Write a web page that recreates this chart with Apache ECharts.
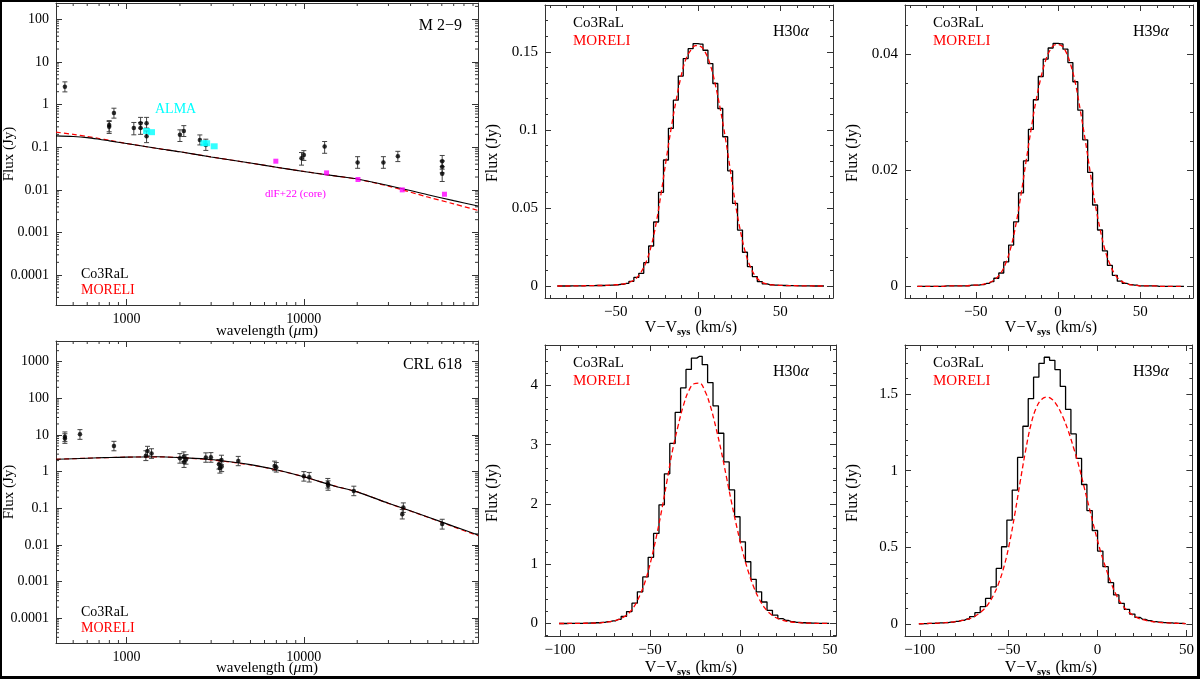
<!DOCTYPE html>
<html>
<head>
<meta charset="utf-8">
<script src="https://cdn.jsdelivr.net/npm/echarts@6/dist/echarts.min.js"></script>
<style>
html, body { margin: 0; padding: 0; background: #000; }
#chart { position: absolute; left: 2px; top: 2px; width: 1195px; height: 674px; background: #fff; }
</style>
</head>
<body>
<div id="chart"></div>
<script>
// ---- SED data, M 2-9 ----
var m29Wave = [449, 798, 798, 849, 1099, 1200, 1200, 1297, 1297, 2000, 2104, 2591, 2800, 9700, 10000, 13100, 20100, 28100, 33900, 60300, 60300, 60300];
var m29Flux = [2.6, 0.33, 0.30, 0.63, 0.28, 0.365, 0.28, 0.365, 0.18, 0.195, 0.24, 0.148, 0.113, 0.055, 0.066, 0.104, 0.0437, 0.044, 0.0615, 0.047, 0.035, 0.0237];
var m29Lo = [1.98, 0.23, 0.21, 0.48, 0.195, 0.28, 0.20, 0.28, 0.128, 0.136, 0.178, 0.113, 0.084, 0.038, 0.049, 0.072, 0.032, 0.032, 0.046, 0.035, 0.025, 0.0157];
var m29Hi = [3.4, 0.42, 0.40, 0.82, 0.38, 0.50, 0.38, 0.50, 0.24, 0.255, 0.32, 0.194, 0.154, 0.075, 0.083, 0.136, 0.060, 0.060, 0.080, 0.064, 0.048, 0.0305];
var almaWave = [1297, 1383, 2729, 2830, 3120];
var almaFlux = [0.24, 0.225, 0.124, 0.124, 0.105];
var dlfWave = [6950, 13430, 20200, 35900, 62100];
var dlfFlux = [0.047, 0.025, 0.0175, 0.010, 0.0079];

// ---- SED data, CRL 618 ----
var crlWave = [449, 449, 546, 849, 1285, 1313, 1383, 2000, 2104, 2110, 2165, 2800, 2990, 3320, 3360, 3430, 3440, 4265, 6840, 6990, 10000, 10720, 13650, 13700, 19140, 35900, 36400, 60300];
var crlFlux = [9.0, 8.0, 10.4, 5.0, 2.73, 3.66, 3.1, 2.3, 2.56, 1.8, 2.13, 2.41, 2.46, 1.58, 1.23, 2.08, 1.37, 1.95, 1.43, 1.31, 0.746, 0.70, 0.48, 0.415, 0.297, 0.069, 0.104, 0.037];
var crlLo = [6.6, 5.9, 7.6, 3.7, 2.0, 2.7, 2.3, 1.7, 1.9, 1.3, 1.6, 1.8, 1.8, 1.17, 0.91, 1.54, 1.0, 1.45, 1.06, 0.97, 0.55, 0.52, 0.355, 0.31, 0.22, 0.051, 0.077, 0.027];
var crlHi = [12.1, 10.8, 14.0, 6.7, 3.7, 4.9, 4.2, 3.1, 3.45, 2.4, 2.9, 3.25, 3.3, 2.13, 1.66, 2.8, 1.85, 2.6, 1.93, 1.77, 1.0, 0.95, 0.65, 0.56, 0.40, 0.093, 0.14, 0.050];

// ---- model SEDs ----
var sedWave = [400, 500, 600, 700, 800, 1000, 1500, 2000, 3000, 5000, 7000, 10000, 15000, 20000, 30000, 50000, 70000, 96000];
var m29Co3 = [0.184, 0.178, 0.168, 0.154, 0.141, 0.122, 0.093, 0.078, 0.059, 0.0425, 0.034, 0.027, 0.0213, 0.018, 0.0127, 0.0077, 0.0056, 0.0042];
var m29More = [0.225, 0.200, 0.178, 0.160, 0.145, 0.122, 0.093, 0.078, 0.059, 0.0425, 0.034, 0.027, 0.0212, 0.0178, 0.0122, 0.0068, 0.0047, 0.0033];
var crlCo3 = [2.17, 2.25, 2.32, 2.38, 2.42, 2.48, 2.55, 2.42, 2.15, 1.55, 1.12, 0.72, 0.40, 0.28, 0.137, 0.058, 0.032, 0.0187];
var crlMore = [2.17, 2.25, 2.32, 2.38, 2.42, 2.48, 2.54, 2.40, 2.10, 1.52, 1.11, 0.72, 0.40, 0.28, 0.136, 0.057, 0.031, 0.0178];

// ---- line profiles, M 2-9 (channel centres, km/s) ----
var velM = [-85.5, -82.5, -79.5, -76.5, -73.5, -70.5, -67.5, -64.5, -61.5, -58.5, -55.5, -52.5, -49.5, -46.5, -43.5, -40.5, -37.5, -34.5, -31.5, -28.5,
  -25.5, -22.5, -19.5, -16.5, -13.5, -10.5, -7.5, -4.5, -1.5, 1.5, 4.5, 7.5, 10.5, 13.5, 16.5, 19.5, 22.5, 25.5, 28.5, 31.5,
  34.5, 37.5, 40.5, 43.5, 46.5, 49.5, 52.5, 55.5, 58.5, 61.5, 64.5, 67.5, 70.5, 73.5, 76.5];
var m29H30Co3 = [0, 0, 0, 0.0001, 0.0001, 0.0001, 0.0002, 0.0002, 0.0003, 0.0003, 0.0004, 0.0006, 0.0008, 0.0011, 0.0017, 0.0030, 0.0055, 0.0081, 0.0149, 0.0256,
  0.041, 0.060, 0.0807, 0.101, 0.119, 0.1345, 0.1457, 0.152, 0.1553, 0.155, 0.151, 0.1425, 0.1297, 0.1137, 0.0956, 0.0738, 0.0529, 0.0358, 0.0216, 0.0124,
  0.0060, 0.0028, 0.0013, 0.0008, 0.0005, 0.0004, 0.0003, 0.0002, 0.0002, 0.0001, 0.0001, 0.0001, 0, 0, 0];
var m29H30More = [0, 0, 0, 0.0001, 0.0001, 0.0001, 0.0002, 0.0002, 0.0003, 0.0003, 0.0004, 0.0006, 0.0008, 0.0011, 0.0017, 0.0029, 0.0050, 0.0090, 0.0155, 0.0255,
  0.040, 0.059, 0.080, 0.100, 0.118, 0.1335, 0.145, 0.151, 0.154, 0.1535, 0.1495, 0.1415, 0.129, 0.1135, 0.0955, 0.075, 0.054, 0.0365, 0.0225, 0.013,
  0.0068, 0.0033, 0.0016, 0.0009, 0.0006, 0.0004, 0.0003, 0.0002, 0.0002, 0.0001, 0.0001, 0.0001, 0, 0, 0];
var m29H39Co3 = [0, 0, 0, 0, 0, 0, 0.0001, 0.0001, 0.0001, 0.0001, 0.0001, 0.0002, 0.0002, 0.0003, 0.0005, 0.0008, 0.0014, 0.0023, 0.0042, 0.0071,
  0.0111, 0.0161, 0.0216, 0.027, 0.0321, 0.0361, 0.0391, 0.041, 0.0418, 0.0417, 0.0408, 0.0385, 0.0352, 0.0303, 0.0252, 0.0196, 0.014, 0.0097, 0.0061, 0.0036,
  0.0019, 0.0009, 0.0005, 0.0003, 0.0002, 0.0001, 0.0001, 0.0001, 0.0001, 0, 0, 0, 0, 0, 0];
var m29H39More = [0, 0, 0, 0, 0, 0, 0.0001, 0.0001, 0.0001, 0.0001, 0.0001, 0.0002, 0.0002, 0.0003, 0.0005, 0.0008, 0.0014, 0.0024, 0.0042, 0.0069,
  0.0108, 0.0158, 0.0214, 0.0268, 0.0318, 0.0358, 0.0389, 0.0408, 0.0416, 0.0415, 0.0405, 0.0383, 0.035, 0.0303, 0.0252, 0.0197, 0.0143, 0.0099, 0.0063, 0.0038,
  0.0021, 0.0011, 0.0006, 0.0003, 0.0002, 0.0001, 0.0001, 0.0001, 0.0001, 0, 0, 0, 0, 0, 0];

// ---- line profiles, CRL 618 ----
var velC = [-100.5, -97.5, -94.5, -91.5, -88.5, -85.5, -82.5, -79.5, -76.5, -73.5, -70.5, -67.5, -64.5, -61.5, -58.5, -55.5, -52.5, -49.5, -46.5, -43.5,
  -40.5, -37.5, -34.5, -31.5, -28.5, -25.5, -22.5, -19.5, -16.5, -13.5, -10.5, -7.5, -4.5, -1.5, 1.5, 4.5, 7.5, 10.5, 13.5, 16.5,
  19.5, 22.5, 25.5, 28.5, 31.5, 34.5, 37.5, 40.5, 43.5, 46.5, 49.5];
var crlH30Co3 = [0, 0, 0.001, 0.002, 0.003, 0.005, 0.008, 0.012, 0.02, 0.03, 0.045, 0.07, 0.12, 0.2, 0.34, 0.53, 0.78, 1.11, 1.51, 1.99,
  2.51, 3.02, 3.54, 3.95, 4.26, 4.45, 4.48, 4.34, 4.04, 3.65, 3.19, 2.71, 2.24, 1.79, 1.37, 1.035, 0.74, 0.53, 0.36, 0.22,
  0.14, 0.08, 0.05, 0.03, 0.02, 0.012, 0.008, 0.005, 0.003, 0.002, 0.001];
var crlH30More = [0, 0, 0.001, 0.002, 0.003, 0.004, 0.006, 0.009, 0.015, 0.025, 0.04, 0.065, 0.11, 0.18, 0.30, 0.48, 0.72, 1.05, 1.45, 1.90,
  2.40, 2.90, 3.30, 3.65, 3.90, 4.02, 4.03, 3.90, 3.65, 3.30, 2.90, 2.45, 2.00, 1.58, 1.20, 0.88, 0.62, 0.42, 0.27, 0.17,
  0.105, 0.065, 0.04, 0.025, 0.015, 0.009, 0.005, 0.003, 0.002, 0.001, 0];
var crlH39Co3 = [0.002, 0.003, 0.004, 0.005, 0.007, 0.009, 0.012, 0.017, 0.024, 0.033, 0.048, 0.074, 0.113, 0.167, 0.243, 0.363, 0.504, 0.678, 0.874, 1.087,
  1.29, 1.47, 1.61, 1.70, 1.74, 1.72, 1.66, 1.55, 1.40, 1.24, 1.08, 0.91, 0.74, 0.61, 0.476, 0.374, 0.27, 0.19, 0.135, 0.096,
  0.065, 0.043, 0.03, 0.022, 0.016, 0.012, 0.009, 0.007, 0.005, 0.004, 0.003];
var crlH39More = [0.002, 0.003, 0.004, 0.005, 0.007, 0.009, 0.012, 0.016, 0.022, 0.03, 0.042, 0.062, 0.09, 0.13, 0.19, 0.27, 0.38, 0.53, 0.72, 0.93,
  1.13, 1.30, 1.41, 1.465, 1.48, 1.465, 1.42, 1.35, 1.26, 1.15, 1.03, 0.89, 0.75, 0.61, 0.48, 0.37, 0.27, 0.19, 0.13, 0.09,
  0.06, 0.04, 0.028, 0.02, 0.015, 0.011, 0.008, 0.006, 0.005, 0.004, 0.003];

var FONT = '"Liberation Serif", serif';
var FRAME = '#333';
var logMults = [2, 3, 4, 5, 6, 7, 8, 9];

function logMinor(lo, hi) {
  var out = [];
  for (var e = Math.floor(Math.log10(lo)); e <= Math.ceil(Math.log10(hi)); e++) {
    logMults.forEach(function (m) {
      var v = +(m * Math.pow(10, e)).toPrecision(3);
      if (v > lo && v < hi) out.push(v);
    });
  }
  return out;
}

function pairs(a, b) { return a.map(function (v, i) { return [v, b[i]]; }); }

var grids = [
  { left: 54, top: 1, width: 422, height: 302 },   // M 2-9 SED
  { left: 54, top: 339, width: 422, height: 302 }, // CRL 618 SED
  { left: 543, top: 3, width: 288, height: 293 },  // M 2-9 H30a
  { left: 903, top: 3, width: 288, height: 293 },  // M 2-9 H39a
  { left: 543, top: 343, width: 291, height: 291 },// CRL 618 H30a
  { left: 903, top: 343, width: 291, height: 291 } // CRL 618 H39a
];

function decadeLabel(v) {
  var l = Math.log10(v);
  if (Math.abs(l - Math.round(l)) > 1e-6) return '';
  return String(+v.toPrecision(1));
}
function stepLabel(step) {
  return function (v) {
    var r = v / step;
    if (Math.abs(r - Math.round(r)) > 1e-6) return '';
    return String(+v.toFixed(6)).replace('-', '\u2212');
  };
}

function mkAxis(gi, pos, type, min, max, labels, fmt, split, minorSplit, fs) {
  var ax = {
    gridIndex: gi, type: type, position: pos, min: min, max: max,
    axisLine: { show: true, onZero: false, lineStyle: { color: FRAME, width: 1 } },
    axisTick: { show: true, inside: true, length: 6, lineStyle: { color: FRAME, width: 1 } },
    splitLine: { show: false },
    axisLabel: { show: labels, color: '#000', fontFamily: FONT, fontSize: fs, margin: 7, formatter: fmt }
  };
  if (type === 'value') {
    ax.splitNumber = split;
    ax.minorTick = { show: true, splitNumber: minorSplit, length: 3, lineStyle: { color: FRAME, width: 1 } };
  }
  return ax;
}

var xAxes = [], yAxes = [];
function addPanel(gi, fs, xt, xmin, xmax, xfmt, xs, xm, yt, ymin, ymax, yfmt, ys, ym) {
  xAxes.push(mkAxis(gi, 'bottom', xt, xmin, xmax, true, xfmt, xs, xm, fs));
  xAxes.push(mkAxis(gi, 'top', xt, xmin, xmax, false, xfmt, xs, xm, fs));
  yAxes.push(mkAxis(gi, 'left', yt, ymin, ymax, true, yfmt, ys, ym, fs));
  yAxes.push(mkAxis(gi, 'right', yt, ymin, ymax, false, yfmt, ys, ym, fs));
}
addPanel(0, 14, 'log', 400, 96000, decadeLabel, 0, 0, 'log', 2.0e-5, 240, decadeLabel, 0, 0);
addPanel(1, 14, 'log', 400, 96000, decadeLabel, 0, 0, 'log', 2.1e-5, 3670, decadeLabel, 0, 0);
addPanel(2, 15, 'value', -93, 82, stepLabel(50), 3, 5, 'value', -0.0077, 0.18, stepLabel(0.05), 4, 5);
addPanel(3, 15, 'value', -93, 82, stepLabel(50), 3, 5, 'value', -0.002, 0.0484, stepLabel(0.02), 3, 4);
addPanel(4, 15, 'value', -108.3, 53.3, stepLabel(50), 3, 5, 'value', -0.21, 4.67, stepLabel(1), 5, 5);
addPanel(5, 15, 'value', -108.3, 53.3, stepLabel(50), 3, 5, 'value', -0.078, 1.82, stepLabel(0.5), 4, 5);

// log-axis minor ticks, drawn on all four frame sides
function minorSeries(gi, xs, ys, xRef, yRef) {
  var data = xs.map(function (v) { return [v, yRef, 0]; })
    .concat(ys.map(function (v) { return [xRef, v, 1]; }));
  return {
    type: 'custom', xAxisIndex: 2 * gi, yAxisIndex: 2 * gi, silent: true, data: data,
    renderItem: function (params, api) {
      var cs = params.coordSys;
      var p = api.coord([api.value(0), api.value(1)]);
      var st = { stroke: FRAME, lineWidth: 1 };
      if (api.value(2) === 0) {
        var b = cs.y + cs.height, t = cs.y;
        return { type: 'group', children: [
          { type: 'line', shape: { x1: p[0], y1: b, x2: p[0], y2: b - 3 }, style: st },
          { type: 'line', shape: { x1: p[0], y1: t, x2: p[0], y2: t + 3 }, style: st }
        ] };
      }
      var l = cs.x, r = cs.x + cs.width;
      return { type: 'group', children: [
        { type: 'line', shape: { x1: l, y1: p[1], x2: l + 3, y2: p[1] }, style: st },
        { type: 'line', shape: { x1: r, y1: p[1], x2: r - 3, y2: p[1] }, style: st }
      ] };
    }
  };
}

function errSeries(gi, xs, lo, hi) {
  return {
    type: 'custom', xAxisIndex: 2 * gi, yAxisIndex: 2 * gi, silent: true,
    data: xs.map(function (v, i) { return [v, lo[i], hi[i]]; }),
    encode: { x: 0, y: [1, 2] },
    renderItem: function (params, api) {
      var x = api.value(0);
      var p1 = api.coord([x, api.value(1)]);
      var p2 = api.coord([x, api.value(2)]);
      var c = 2.5, st = { stroke: '#444', lineWidth: 1 };
      return { type: 'group', children: [
        { type: 'line', shape: { x1: p1[0], y1: p1[1], x2: p2[0], y2: p2[1] }, style: st },
        { type: 'line', shape: { x1: p1[0] - c, y1: p1[1], x2: p1[0] + c, y2: p1[1] }, style: st },
        { type: 'line', shape: { x1: p2[0] - c, y1: p2[1], x2: p2[0] + c, y2: p2[1] }, style: st }
      ] };
    }
  };
}

function pts(gi, xs, ys, color, symbol, size) {
  return { type: 'scatter', xAxisIndex: 2 * gi, yAxisIndex: 2 * gi, data: pairs(xs, ys), symbol: symbol,
    symbolSize: size, itemStyle: { color: color }, silent: true, z: 4 };
}
function modelLine(gi, xs, ys, red) {
  return { type: 'line', xAxisIndex: 2 * gi, yAxisIndex: 2 * gi, data: pairs(xs, ys), symbol: 'none', silent: true,
    smooth: 0.3, z: red ? 2 : 3,
    lineStyle: red ? { color: '#ff0000', width: 1.2, type: [5, 3] } : { color: '#000', width: 1.1 } };
}
function profile(gi, xs, ys, red) {
  var s = { type: 'line', xAxisIndex: 2 * gi, yAxisIndex: 2 * gi, data: pairs(xs, ys), symbol: 'none', silent: true };
  if (red) {
    s.smooth = 0.4; s.z = 3;
    s.lineStyle = { color: '#ff0000', width: 1.3, type: [5, 3] };
  } else {
    s.step = 'middle'; s.z = 2;
    s.lineStyle = { color: '#000', width: 1.3 };
  }
  return s;
}

var series = [
  minorSeries(0, logMinor(400, 96000), logMinor(2.0e-5, 240), 1000, 1),
  minorSeries(1, logMinor(400, 96000), logMinor(2.1e-5, 3670), 1000, 1),
  modelLine(0, sedWave, m29More, true),
  modelLine(0, sedWave, m29Co3, false),
  errSeries(0, m29Wave, m29Lo, m29Hi),
  pts(0, m29Wave, m29Flux, '#000', 'circle', 4.5),
  pts(0, almaWave, almaFlux, '#00ffff', 'rect', [7, 6]),
  pts(0, dlfWave, dlfFlux, '#ff00ff', 'rect', [5, 5]),
  modelLine(1, sedWave, crlMore, true),
  modelLine(1, sedWave, crlCo3, false),
  errSeries(1, crlWave, crlLo, crlHi),
  pts(1, crlWave, crlFlux, '#000', 'circle', 4.5),
  profile(2, velM, m29H30Co3, false),
  profile(2, velM, m29H30More, true),
  profile(3, velM, m29H39Co3, false),
  profile(3, velM, m29H39More, true),
  profile(4, velC, crlH30Co3, false),
  profile(4, velC, crlH30More, true),
  profile(5, velC, crlH39Co3, false),
  profile(5, velC, crlH39More, true)
];

// ---- text ----
function txt(x, y, s, color, size, align, rot, rich) {
  var el = { type: 'text', x: x, y: y, silent: true, z: 10,
    style: { text: s, fill: color, font: size + 'px ' + FONT, align: align || 'left', verticalAlign: 'middle',
      textAlign: align || 'left', textVerticalAlign: 'middle' } };
  if (rot) el.rotation = rot;
  if (rich) el.style.rich = rich;
  return el;
}
var velRich = {
  a: { fontFamily: FONT, fontSize: 16, lineHeight: 19, verticalAlign: 'middle', fill: '#000' },
  b: { fontFamily: FONT, fontSize: 10.5, fontWeight: 'bold', lineHeight: 12, verticalAlign: 'bottom', padding: [0, 1, 0, 0], fill: '#000' }
};
var muRich = {
  a: { fontFamily: FONT, fontSize: 15, fill: '#000' },
  i: { fontFamily: FONT, fontSize: 15, fontStyle: 'italic', fill: '#000' }
};
var alphaRich = {
  a: { fontFamily: FONT, fontSize: 16, fill: '#000' },
  i: { fontFamily: FONT, fontSize: 16, fontStyle: 'italic', fill: '#000' }
};
var ROT = Math.PI / 2;
var graphics = [
  txt(460, 24, 'M 2\u22129', '#000', 16, 'right'),
  txt(460, 363, 'CRL 618', '#000', 16, 'right'),
  txt(153, 107, 'ALMA', '#00ffff', 14),
  txt(263, 192, 'dlF+22 (core)', '#ff00ff', 11),
  txt(79, 272, 'Co3RaL', '#000', 14), txt(79, 288, 'MORELI', '#ff0000', 14),
  txt(79, 610, 'Co3RaL', '#000', 14), txt(79, 626, 'MORELI', '#ff0000', 14),
  txt(7, 152, 'Flux (Jy)', '#000', 15, 'center', ROT),
  txt(7, 490, 'Flux (Jy)', '#000', 15, 'center', ROT),
  txt(265, 329, '{a|wavelength (}{i|\u03bc}{a|m)}', '#000', 15, 'center', 0, muRich),
  txt(265, 666, '{a|wavelength (}{i|\u03bc}{a|m)}', '#000', 15, 'center', 0, muRich)
];
[[543, 3, 'H30'], [903, 3, 'H39'], [543, 343, 'H30'], [903, 343, 'H39']].forEach(function (p) {
  var x0 = p[0], y0 = p[1];
  graphics.push(txt(x0 + 28, y0 + 18, 'Co3RaL', '#000', 15));
  graphics.push(txt(x0 + 28, y0 + 36, 'MORELI', '#ff0000', 15));
  graphics.push(txt(x0 + 228, y0 + 27, '{a|' + p[2] + '}{i|\u03b1}', '#000', 16, 'left', 0, alphaRich));
  graphics.push(txt(x0 - 52, y0 + 148, 'Flux (Jy)', '#000', 16, 'center', ROT));
  graphics.push(txt(x0 + 146, y0 + 323, '{a|V\u2212V}{b|sys}{a| (km/s)}', '#000', 16, 'center', 0, velRich));
});

var chart = echarts.init(document.getElementById('chart'));
chart.setOption({
  animation: false,
  backgroundColor: '#fff',
  grid: grids,
  xAxis: xAxes,
  yAxis: yAxes,
  series: series,
  graphic: { elements: graphics }
});
</script>
</body>
</html>
